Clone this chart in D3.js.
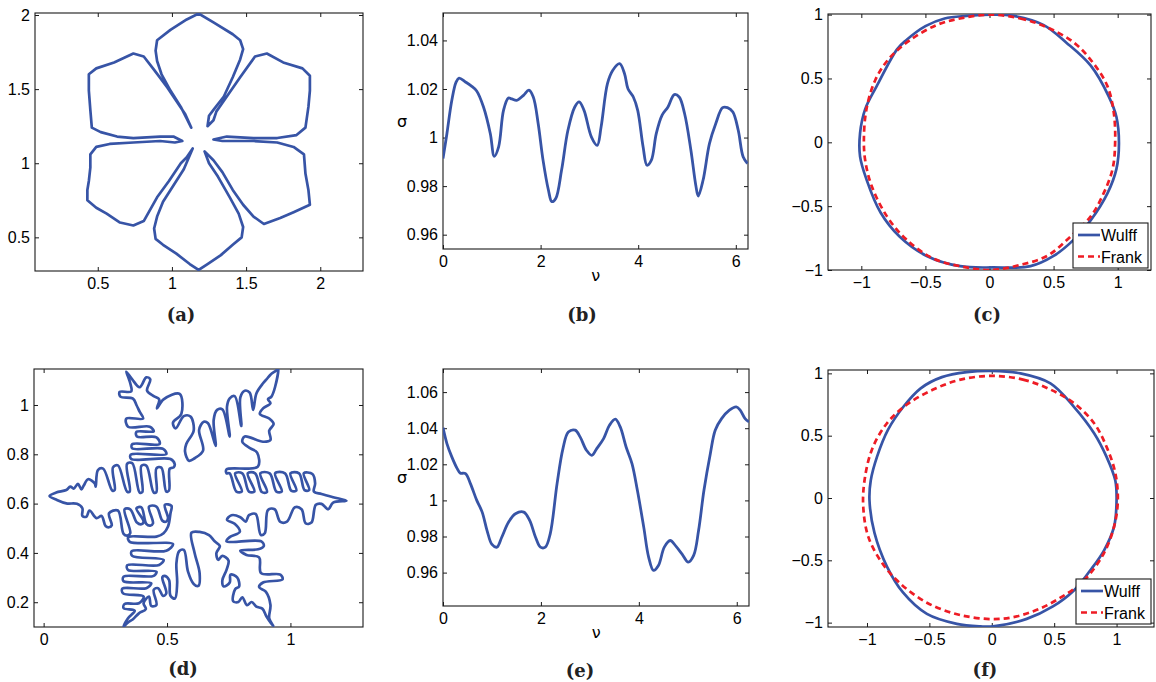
<!DOCTYPE html>
<html>
<head>
<meta charset="utf-8">
<script src="https://cdn.jsdelivr.net/npm/d3@7"></script>
<style>
  body { margin: 0; background: #fff; }
  svg text { font-family: "Liberation Sans", Arial, sans-serif; }
</style>
</head>
<body>
<svg id="fig" width="1156" height="682"></svg>
<script>
//----------------------------------------------------------------------------------------------------------------------
// data
//----------------------------------------------------------------------------------------------------------------------

// (a) six-petal crystal outline, [x, y]
var flowerOutline = [
  [1.18,2.01],[1.28,1.95],[1.41,1.87],[1.46,1.83],[1.48,1.77],[1.46,1.70],[1.41,1.58],[1.35,1.45],[1.28,1.36],[1.25,1.32],
  [1.24,1.25],[1.28,1.29],[1.30,1.35],[1.37,1.45],[1.46,1.58],[1.56,1.72],[1.64,1.74],[1.75,1.68],[1.88,1.64],[1.93,1.59],
  [1.93,1.49],[1.92,1.38],[1.90,1.24],[1.84,1.19],[1.71,1.17],[1.55,1.17],[1.37,1.18],[1.28,1.16],[1.34,1.15],[1.55,1.15],
  [1.71,1.14],[1.82,1.11],[1.89,1.06],[1.90,0.93],[1.92,0.82],[1.93,0.72],[1.82,0.67],[1.73,0.63],[1.62,0.59],[1.55,0.64],
  [1.48,0.72],[1.41,0.82],[1.34,0.94],[1.28,1.02],[1.22,1.08],[1.25,1.00],[1.31,0.91],[1.39,0.77],[1.45,0.66],[1.48,0.57],
  [1.47,0.50],[1.41,0.45],[1.33,0.38],[1.24,0.32],[1.18,0.28],[1.12,0.32],[1.03,0.39],[0.94,0.45],[0.89,0.49],[0.88,0.56],
  [0.90,0.64],[0.94,0.74],[1.01,0.85],[1.08,0.96],[1.14,1.10],[1.10,1.04],[1.06,1.00],[0.98,0.88],[0.90,0.77],[0.81,0.61],
  [0.74,0.58],[0.65,0.60],[0.56,0.66],[0.49,0.70],[0.43,0.75],[0.43,0.82],[0.44,0.88],[0.45,0.97],[0.45,1.06],[0.49,1.11],
  [0.58,1.13],[0.74,1.14],[0.92,1.15],[1.02,1.14],[1.07,1.15],[1.01,1.18],[0.92,1.18],[0.74,1.17],[0.63,1.18],[0.52,1.21],
  [0.46,1.24],[0.45,1.36],[0.44,1.49],[0.44,1.60],[0.49,1.64],[0.61,1.68],[0.74,1.74],[0.81,1.72],[0.88,1.63],[0.97,1.51],
  [1.03,1.42],[1.09,1.33],[1.13,1.24],[1.10,1.30],[1.06,1.38],[0.99,1.49],[0.93,1.60],[0.90,1.69],[0.89,1.76],[0.90,1.83],
  [0.99,1.90],[1.10,1.97]
];

// (b) surface tension along the boundary
var bNu = [0,0.08,0.18,0.27,0.33,0.46,0.59,0.69,0.83,0.97,1.05,1.14,1.24,1.34,1.41,1.51,1.65,1.76,1.85,1.95,
  2.05,2.16,2.23,2.31,2.43,2.56,2.70,2.79,2.89,3.04,3.16,3.24,3.37,3.48,3.62,3.72,3.79,3.90,3.99,4.10,
  4.18,4.27,4.37,4.49,4.61,4.74,4.84,4.95,5.08,5.18,5.23,5.33,5.46,5.59,5.73,5.83,5.94,6.05,6.15,6.24];
var bSigma = [0.9914,1.0016,1.0153,1.0229,1.0245,1.0229,1.0211,1.0192,1.0126,1.0016,0.9923,0.9962,1.0112,1.0163,1.0159,
  1.0153,1.0174,1.0195,1.0167,1.0058,0.9907,0.9784,0.9736,0.9749,0.9866,1.0030,1.0126,1.0147,1.0112,1.0003,
  0.9968,1.0044,1.0222,1.0277,1.0304,1.0263,1.0201,1.0167,1.0112,0.9962,0.9886,0.9907,1.0016,1.0092,1.0126,
  1.0177,1.0167,1.0099,0.9948,0.9804,0.9759,0.9825,0.9975,1.0058,1.0123,1.0123,1.0105,1.0030,0.9921,0.9893];

// (c) Wulff shape and Frank diagram
var cWulff = [[0.03,1.0],[0.19,0.99],[0.42,0.92],[0.60,0.78],[0.79,0.60],[0.93,0.36],[0.99,0.20],[1.01,-0.01],[0.99,-0.21],
  [0.92,-0.40],[0.79,-0.61],[0.66,-0.76],[0.50,-0.89],[0.32,-0.97],[0.03,-0.98],[-0.23,-0.97],[-0.49,-0.89],[-0.70,-0.74],
  [-0.85,-0.55],[-0.96,-0.29],[-1.01,-0.11],[-1.01,0.07],[-0.97,0.26],[-0.88,0.44],[-0.72,0.73],[-0.65,0.80],[-0.50,0.91],
  [-0.35,0.97],[-0.18,0.99]];
var cFrank = [[0,1.0],[0.24,0.97],[0.45,0.90],[0.66,0.78],[0.81,0.62],[0.92,0.44],[0.97,0.23],[0.98,-0.01],[0.96,-0.21],
  [0.89,-0.40],[0.79,-0.58],[0.63,-0.74],[0.45,-0.89],[0.24,-0.96],[0.01,-1.0],[-0.23,-0.97],[-0.44,-0.91],[-0.65,-0.76],
  [-0.80,-0.58],[-0.92,-0.34],[-0.97,-0.14],[-0.98,0.02],[-0.96,0.26],[-0.89,0.49],[-0.78,0.66],[-0.62,0.80],[-0.41,0.92],
  [-0.23,0.97]];

// (d) dendritic crystal outline, [x, y]
var snowOutline = [
  [0.024,0.631],[0.051,0.645],[0.092,0.655],[0.108,0.669],[0.122,0.661],[0.139,0.680],[0.153,0.658],[0.162,0.672],[0.180,0.699],
  [0.207,0.682],[0.211,0.669],[0.220,0.736],[0.241,0.742],[0.278,0.653],[0.288,0.655],[0.281,0.747],[0.301,0.755],[0.338,0.649],
  [0.349,0.649],[0.338,0.761],[0.359,0.764],[0.389,0.645],[0.400,0.647],[0.396,0.753],[0.416,0.754],[0.446,0.645],[0.457,0.647],
  [0.457,0.743],[0.477,0.746],[0.497,0.649],[0.508,0.653],[0.511,0.742],[0.527,0.747],
  [0.531,0.761],[0.514,0.781],[0.355,0.781],[0.353,0.799],[0.497,0.801],[0.484,0.822],[0.359,0.824],[0.359,0.841],[0.470,0.842],
  [0.457,0.869],[0.378,0.872],[0.376,0.891],[0.446,0.893],[0.430,0.912],[0.342,0.912],[0.335,0.945],[0.403,0.945],[0.389,0.973],
  [0.376,1.000],[0.362,1.026],[0.311,1.034],[0.308,1.053],[0.355,1.055],[0.351,1.088],[0.342,1.115],[0.335,1.135],
  [0.359,1.104],[0.389,1.072],[0.416,1.112],[0.432,1.104],[0.419,1.058],[0.446,1.036],[0.468,1.023],[0.459,0.986],[0.486,1.023],
  [0.551,1.045],[0.558,0.964],[0.524,0.928],[0.535,0.905],[0.568,0.955],[0.595,0.953],[0.608,0.896],[0.578,0.842],[0.573,0.811],
  [0.589,0.774],
  [0.612,0.784],[0.646,0.815],[0.630,0.899],[0.649,0.932],[0.666,0.926],[0.697,0.834],[0.689,0.939],[0.703,0.980],[0.724,0.982],
  [0.754,0.872],[0.743,0.993],[0.754,1.027],[0.774,1.036],[0.801,0.915],[0.797,1.031],[0.815,1.058],[0.835,1.050],[0.849,0.980],
  [0.862,1.047],[0.889,1.088],[0.903,1.104],[0.919,1.123],[0.941,1.139],[0.950,1.147],
  [0.938,1.074],[0.923,1.034],[0.909,1.023],[0.919,1.007],[0.889,0.986],[0.876,0.964],[0.914,0.945],[0.932,0.923],[0.914,0.896],
  [0.919,0.858],[0.889,0.851],[0.815,0.872],[0.805,0.851],[0.838,0.824],[0.865,0.807],[0.868,0.750],
  [0.741,0.739],[0.741,0.723],[0.754,0.723],[0.781,0.649],[0.803,0.649],[0.776,0.723],[0.805,0.723],[0.832,0.649],[0.854,0.649],
  [0.827,0.723],[0.857,0.723],[0.884,0.647],[0.905,0.647],[0.878,0.723],[0.916,0.723],[0.943,0.649],[0.965,0.649],[0.938,0.723],
  [0.978,0.723],[1.003,0.653],[1.024,0.653],[1.000,0.723],[1.035,0.723],[1.057,0.655],[1.076,0.655],[1.054,0.723],[1.089,0.720],
  [1.100,0.682],[1.095,0.649],[1.126,0.639],[1.173,0.626],[1.227,0.612],
  [1.173,0.604],[1.153,0.577],[1.126,0.599],[1.103,0.595],[1.085,0.523],[1.062,0.520],[1.045,0.577],[1.018,0.585],[0.986,0.527],
  [0.959,0.526],[0.936,0.577],[0.909,0.574],[0.896,0.480],[0.880,0.473],[0.859,0.558],[0.832,0.553],[0.819,0.527],[0.797,0.545],
  [0.761,0.553],[0.743,0.534],
  [0.774,0.518],[0.795,0.486],[0.754,0.464],[0.741,0.447],[0.882,0.447],[0.892,0.428],[0.869,0.415],[0.797,0.409],[0.822,0.392],
  [0.873,0.382],[0.881,0.318],[0.959,0.312],[0.968,0.293],[0.889,0.280],[0.873,0.261],[0.900,0.243],[0.919,0.189],[0.914,0.135],
  [0.930,0.104],
  [0.903,0.142],[0.886,0.174],[0.862,0.182],[0.843,0.201],[0.824,0.188],[0.805,0.220],[0.789,0.201],[0.768,0.204],[0.776,0.253],
  [0.792,0.264],[0.784,0.301],[0.757,0.312],[0.754,0.280],[0.730,0.264],[0.724,0.288],[0.741,0.331],[0.749,0.369],[0.724,0.388],
  [0.707,0.372],[0.700,0.399],[0.714,0.428],[0.693,0.447],
  [0.670,0.472],[0.632,0.485],[0.599,0.482],[0.612,0.399],[0.632,0.318],[0.627,0.266],[0.608,0.274],[0.585,0.324],[0.568,0.412],
  [0.549,0.407],[0.538,0.358],[0.541,0.277],[0.532,0.215],[0.514,0.226],[0.508,0.291],[0.489,0.307],[0.481,0.301],[0.497,0.236],
  [0.484,0.226],[0.464,0.257],[0.446,0.250],[0.457,0.189],[0.436,0.185],[0.427,0.223],[0.405,0.196],[0.414,0.172],[0.386,0.155],
  [0.362,0.131],[0.342,0.118],[0.324,0.101],
  [0.342,0.135],[0.369,0.166],[0.324,0.176],[0.328,0.193],[0.386,0.196],[0.405,0.223],[0.322,0.236],[0.319,0.255],[0.416,0.257],
  [0.436,0.277],[0.324,0.285],[0.324,0.304],[0.446,0.307],[0.457,0.324],[0.342,0.331],[0.339,0.350],[0.468,0.351],[0.486,0.372],
  [0.359,0.388],[0.357,0.407],[0.497,0.409],[0.524,0.436],[0.349,0.445],[0.343,0.464],[0.457,0.466],[0.486,0.480],[0.504,0.507],
  [0.514,0.561],[0.518,0.591],
  [0.491,0.595],[0.504,0.541],[0.497,0.527],[0.481,0.531],[0.457,0.588],[0.427,0.588],[0.443,0.520],[0.432,0.511],[0.416,0.518],
  [0.396,0.585],[0.376,0.581],[0.405,0.527],[0.396,0.516],[0.378,0.523],[0.351,0.577],[0.328,0.577],[0.351,0.480],[0.339,0.470],
  [0.324,0.477],[0.301,0.572],[0.265,0.561],[0.276,0.512],[0.265,0.504],[0.251,0.509],[0.235,0.550],[0.214,0.541],[0.186,0.572],
  [0.173,0.547],[0.157,0.550],[0.157,0.581],[0.135,0.599],[0.092,0.601],[0.054,0.615]
];

// (e) surface tension along the boundary
var eNu = [0,0.08,0.18,0.29,0.35,0.46,0.56,0.69,0.80,0.90,1.00,1.10,1.20,1.34,1.48,1.65,1.77,1.89,1.99,2.09,
  2.19,2.33,2.45,2.56,2.70,2.80,2.93,3.04,3.14,3.28,3.40,3.52,3.62,3.74,3.86,3.97,4.10,4.20,4.30,4.40,
  4.52,4.64,4.76,4.88,5.01,5.12,5.22,5.33,5.46,5.56,5.69,5.85,5.99,6.07,6.17,6.25];
var eSigma = [1.0403,1.0315,1.0241,1.0176,1.0152,1.0148,1.0093,1.0000,0.9935,0.9833,0.9756,0.9741,0.9796,0.9880,0.9926,
  0.9935,0.9889,0.9796,0.9741,0.9741,0.9815,1.0093,1.0287,1.0379,1.0389,1.0352,1.0278,1.0250,1.0287,1.0342,
  1.0416,1.0450,1.0407,1.0296,1.0204,1.0056,0.9852,0.9686,0.9612,0.9639,0.9741,0.9778,0.9745,0.9704,0.9658,
  0.9695,0.9833,1.0056,1.0259,1.0389,1.0453,1.0500,1.0518,1.0500,1.0453,1.0435];

// (f) Wulff shape and Frank diagram
var fWulff = [[0,1.02],[0.23,1.0],[0.47,0.92],[0.66,0.73],[0.82,0.52],[0.92,0.33],[0.99,0.14],[1.0,-0.02],[0.98,-0.23],
  [0.90,-0.42],[0.79,-0.58],[0.66,-0.74],[0.49,-0.87],[0.28,-0.97],[0.01,-1.03],[-0.09,-1.03],[-0.28,-1.01],[-0.52,-0.93],
  [-0.71,-0.76],[-0.84,-0.55],[-0.94,-0.28],[-0.98,-0.02],[-0.97,0.14],[-0.92,0.33],[-0.83,0.55],[-0.71,0.73],[-0.57,0.88],
  [-0.40,0.97],[-0.20,1.01]];
var fFrank = [[0,0.98],[0.25,0.95],[0.47,0.87],[0.66,0.76],[0.82,0.60],[0.92,0.41],[0.99,0.20],[1.01,-0.02],[0.98,-0.23],
  [0.90,-0.44],[0.74,-0.66],[0.55,-0.80],[0.33,-0.91],[0.07,-0.97],[-0.25,-0.94],[-0.52,-0.84],[-0.74,-0.68],[-0.88,-0.52],
  [-0.99,-0.31],[-1.03,-0.07],[-1.02,0.14],[-0.96,0.39],[-0.84,0.60],[-0.68,0.75],[-0.47,0.87],[-0.25,0.95]];

// ticks
var aTicks = [0.5, 1, 1.5, 2];
var aTickLabels = ["0.5", "1", "1.5", "2"];
var nuTicks = [0, 2, 4, 6];
var nuTickLabels = ["0", "2", "4", "6"];
var bSigmaTicks = [0.96, 0.98, 1, 1.02, 1.04];
var bSigmaTickLabels = ["0.96", "0.98", "1", "1.02", "1.04"];
var eSigmaTicks = [0.96, 0.98, 1, 1.02, 1.04, 1.06];
var eSigmaTickLabels = ["0.96", "0.98", "1", "1.02", "1.04", "1.06"];
var unitTicks = [-1, -0.5, 0, 0.5, 1];
var unitTickLabels = ["\u22121", "\u22120.5", "0", "0.5", "1"];
var dxTicks = [0, 0.5, 1];
var dxTickLabels = ["0", "0.5", "1"];
var dyTicks = [0.2, 0.4, 0.6, 0.8, 1];
var dyTickLabels = ["0.2", "0.4", "0.6", "0.8", "1"];
var legendLabels = ["Wulff", "Frank"];
var panelLabels = ["(a)", "(b)", "(c)", "(d)", "(e)", "(f)"];

//----------------------------------------------------------------------------------------------------------------------
// setup
//----------------------------------------------------------------------------------------------------------------------
var blue = "#3754a6";
var red = "#ee1c25";
var ink = "#1a1a1a";
var svg = d3.select("#fig");
svg.append("rect").attr("width", 1156).attr("height", 682).attr("fill", "#fff");

function makePanel(id, box, xd, yd, xt, xtl, yt, ytl) {
  var x = d3.scaleLinear().domain(xd).range([box.l, box.r]);
  var y = d3.scaleLinear().domain(yd).range([box.b, box.t]);
  var g = svg.append("g").attr("class", "panel-" + id);

  svg.append("clipPath").attr("id", "clip-" + id)
    .append("rect")
    .attr("x", box.l).attr("y", box.t)
    .attr("width", box.r - box.l).attr("height", box.b - box.t);

  g.append("g").attr("transform", "translate(0," + box.b + ")")
    .call(d3.axisBottom(x).tickValues(xt).tickFormat(function(d, i) { return xtl[i]; })
      .tickSizeInner(-4).tickSizeOuter(0).tickPadding(7));
  g.append("g").attr("transform", "translate(0," + box.t + ")")
    .call(d3.axisTop(x).tickValues(xt).tickFormat("").tickSizeInner(-4).tickSizeOuter(0));
  g.append("g").attr("transform", "translate(" + box.l + ",0)")
    .call(d3.axisLeft(y).tickValues(yt).tickFormat(function(d, i) { return ytl[i]; })
      .tickSizeInner(-4).tickSizeOuter(0).tickPadding(5));
  g.append("g").attr("transform", "translate(" + box.r + ",0)")
    .call(d3.axisRight(y).tickValues(yt).tickFormat("").tickSizeInner(-4).tickSizeOuter(0));

  g.selectAll(".domain").remove();
  g.selectAll(".tick line").attr("stroke", ink).attr("stroke-width", 1);
  g.selectAll(".tick text")
    .attr("fill", "#000")
    .style("font-size", "16px")
    .style("font-family", "'Liberation Sans', Arial, sans-serif");

  g.append("rect")
    .attr("x", box.l).attr("y", box.t)
    .attr("width", box.r - box.l).attr("height", box.b - box.t)
    .attr("fill", "none").attr("stroke", ink).attr("stroke-width", 1.1);

  var plot = svg.append("g").attr("clip-path", "url(#clip-" + id + ")");
  return { x: x, y: y, g: g, plot: plot, box: box };
}

function closedPath(p, pts, curve, color, dash) {
  var line = d3.line()
    .x(function(d) { return p.x(d[0]); })
    .y(function(d) { return p.y(d[1]); })
    .curve(curve);
  var path = p.plot.append("path")
    .datum(pts)
    .attr("d", line)
    .attr("fill", "none")
    .attr("stroke", color)
    .attr("stroke-width", 2.7)
    .attr("stroke-linejoin", "round");
  if (dash) path.attr("stroke-dasharray", dash);
  return path;
}

function sigmaCurve(p, nu, sigma) {
  var line = d3.line()
    .x(function(d) { return p.x(d); })
    .y(function(d, i) { return p.y(sigma[i]); })
    .curve(d3.curveCatmullRom.alpha(0.5));
  p.plot.append("path")
    .datum(nu)
    .attr("d", line)
    .attr("fill", "none")
    .attr("stroke", blue)
    .attr("stroke-width", 2.8);
}

function greekLabels(p, nuAt, sigmaAt) {
  p.g.append("text").attr("x", p.x(nuAt)).attr("y", p.box.b + 32)
    .attr("text-anchor", "middle")
    .style("font-family", "'DejaVu Sans', sans-serif").style("font-size", "16px")
    .text("\u03bd");
  p.g.append("text").attr("x", p.box.l - 41).attr("y", p.y(sigmaAt))
    .attr("text-anchor", "middle")
    .style("font-family", "'DejaVu Sans', sans-serif").style("font-size", "16px")
    .text("\u03c3");
}

function legend(p, lx, ly) {
  var lg = p.g.append("g");
  var w = 75, h = 45;
  lg.append("rect").attr("x", lx).attr("y", ly).attr("width", w).attr("height", h)
    .attr("fill", "#fff").attr("stroke", ink).attr("stroke-width", 1.1);
  legendLabels.forEach(function(name, i) {
    var yy = ly + 12 + i * 21.5;
    lg.append("line").attr("x1", lx + 5).attr("x2", lx + 27).attr("y1", yy).attr("y2", yy)
      .attr("stroke", i === 0 ? blue : red).attr("stroke-width", 2.7)
      .attr("stroke-dasharray", i === 0 ? null : "6,4");
    lg.append("text").attr("x", lx + 28).attr("y", yy + 6)
      .style("font-size", "16px").attr("fill", "#000").text(name);
  });
  svg.node().appendChild(lg.node());
}

function panelLabel(text, cx, cy) {
  svg.append("text").attr("x", cx).attr("y", cy)
    .attr("text-anchor", "middle")
    .style("font-family", "'DejaVu Serif', serif")
    .style("font-weight", "bold")
    .style("font-size", "18px")
    .attr("fill", "#222")
    .text(text);
}

//----------------------------------------------------------------------------------------------------------------------
// panels
//----------------------------------------------------------------------------------------------------------------------
var pa = makePanel("a", { l: 35, r: 363, t: 13, b: 271 }, [0.077, 2.288], [0.273, 2.0135],
  aTicks, aTickLabels, aTicks, aTickLabels);
closedPath(pa, flowerOutline, d3.curveLinearClosed, blue);

var pb = makePanel("b", { l: 443, r: 748, t: 13, b: 249 }, [0, 6.25], [0.9541, 1.0513],
  nuTicks, nuTickLabels, bSigmaTicks, bSigmaTickLabels);
sigmaCurve(pb, bNu, bSigma);
greekLabels(pb, 3.13, 1.0045);

var pc = makePanel("c", { l: 828, r: 1151, t: 14, b: 270 }, [-1.26, 1.26], [-1.0, 1.005],
  unitTicks, unitTickLabels, unitTicks, unitTickLabels);
closedPath(pc, cWulff, d3.curveCatmullRomClosed.alpha(0.5), blue);
closedPath(pc, cFrank, d3.curveCatmullRomClosed.alpha(0.5), red, "6,4");
legend(pc, 1073, 223);

var pd = makePanel("d", { l: 34, r: 363, t: 369, b: 627 }, [-0.039, 1.294], [0.0995, 1.146],
  dxTicks, dxTickLabels, dyTicks, dyTickLabels);
closedPath(pd, snowOutline, d3.curveCatmullRomClosed.alpha(0.5), blue);

var pe = makePanel("e", { l: 443, r: 749, t: 369, b: 606 }, [0, 6.25], [0.9415, 1.0728],
  nuTicks, nuTickLabels, eSigmaTicks, eSigmaTickLabels);
sigmaCurve(pe, eNu, eSigma);
greekLabels(pe, 3.13, 1.0095);

var pf = makePanel("f", { l: 828, r: 1154, t: 370, b: 627 }, [-1.3125, 1.30], [-1.035, 1.027],
  unitTicks, unitTickLabels, unitTicks, unitTickLabels);
closedPath(pf, fWulff, d3.curveCatmullRomClosed.alpha(0.5), blue);
closedPath(pf, fFrank, d3.curveCatmullRomClosed.alpha(0.5), red, "6,4");
legend(pf, 1076, 579);

panelLabel(panelLabels[0], 181, 321);
panelLabel(panelLabels[1], 582, 321);
panelLabel(panelLabels[2], 987, 321);
panelLabel(panelLabels[3], 183, 675);
panelLabel(panelLabels[4], 580, 677);
panelLabel(panelLabels[5], 985, 676);
</script>
</body>
</html>
